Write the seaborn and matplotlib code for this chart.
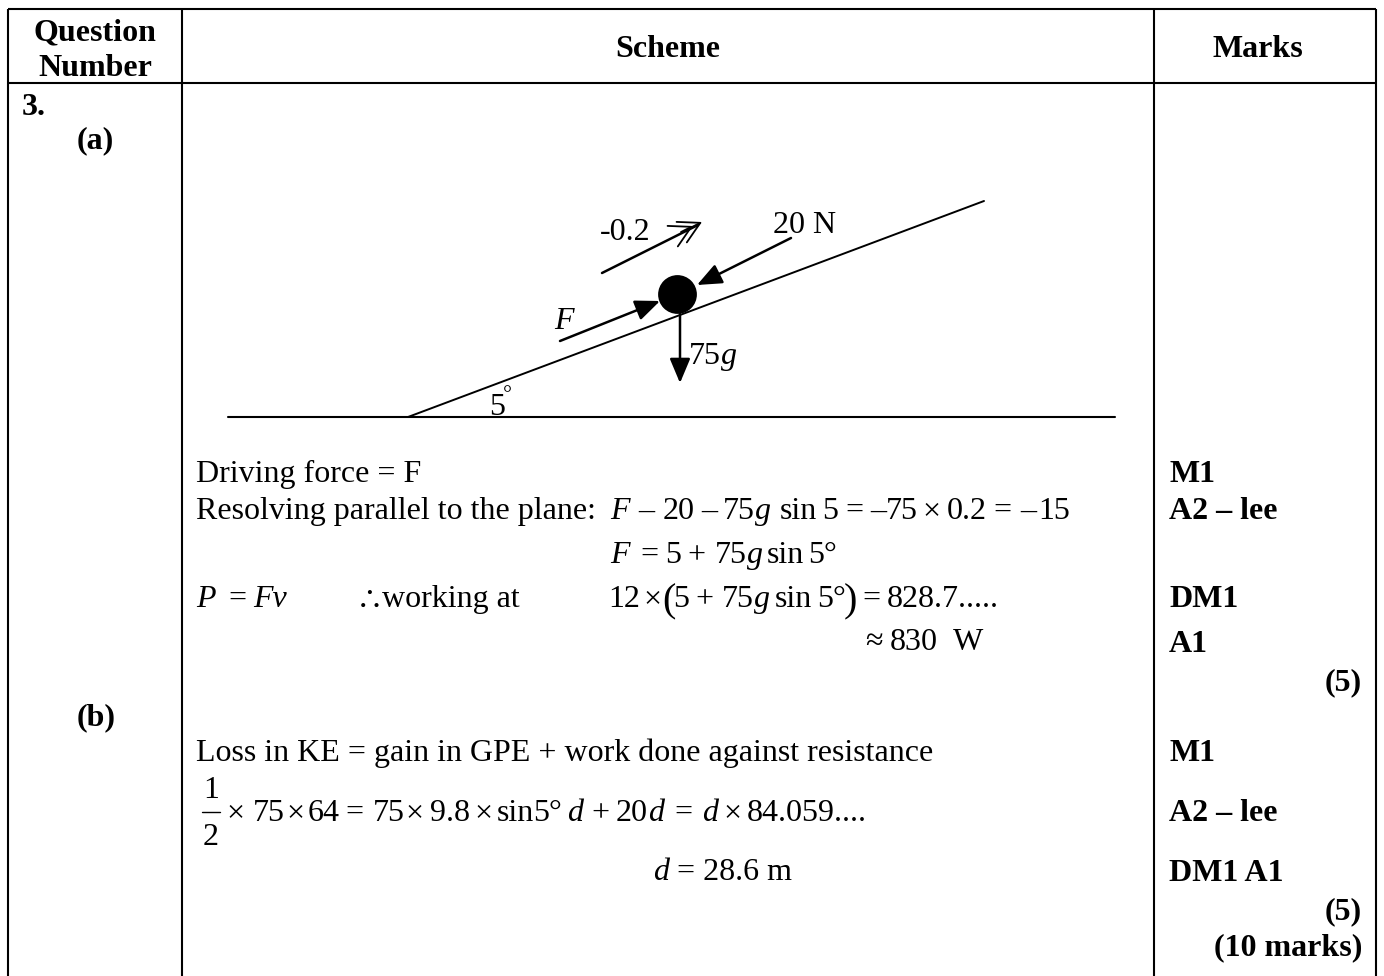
import matplotlib
matplotlib.use('Agg')
import matplotlib.pyplot as plt
import pandas as pd
import seaborn as sns

sns.set_theme(style='white')
plt.rcParams['font.family'] = ['Liberation Serif', 'DejaVu Serif']
plt.rcParams['mathtext.fontset'] = 'custom'
plt.rcParams['mathtext.rm'] = 'Liberation Serif'
plt.rcParams['mathtext.it'] = 'Liberation Serif:italic'

# table grid (pixels of the page)
col_x = [8, 182, 1154, 1376]
row_y = [9, 83]

# diagram geometry
ground_x = [228, 1115]
ground_y = [417, 417]
plane_x = [408, 984]
plane_y = [417, 201]
ball = pd.DataFrame({'x': [677], 'y': [294]})
arrows = [((560, 341), (660, 301)), ((791, 238), (697, 285)), ((680, 314), (680, 383))]

header_text = [('Question', 95, 40), ('Number', 95, 76), ('Scheme', 668, 57), ('Marks', 1258, 57)]
left_text = [('3.', 22, 115), ('(a)', 77, 148), ('(b)', 77, 725)]
mark_text = [('M1', 482), ('A2 – lee', 519), ('DM1', 607), ('A1', 652),
             ('M1', 761), ('A2 – lee', 821), ('DM1 A1', 881)]
total_text = [('(5)', 690), ('(5)', 919), ('(10 marks)', 955)]
diagram_text = [('-0.2', 600, 240, 'normal'), ('20 N', 773, 233, 'normal'), ('F', 554, 329, 'italic'),
                ('75', 689, 364, 'normal'), ('g', 721, 364, 'italic'), ('5', 489, 415, 'normal')]

# plain lines of working
plain_text = [('Driving force = F', 196, 482),
              ('Resolving parallel to the plane:', 196, 519),
              ('working at', 382, 607),
              ('Loss in KE = gain in GPE + work done against resistance', 196, 761)]

# equations: baseline, then (x, text, style)
eq_rows = [
    (519, [(610, 'F', 'italic'), (638, '–', 'normal'), (663, '20', 'normal'), (701, '–', 'normal'),
           (723, '75', 'normal'), (755, 'g', 'italic'), (780, 'sin', 'normal'), (822, '5', 'normal'),
           (845, '=', 'normal'), (870, '–', 'normal'), (886, '75', 'normal'), (922, '×', 'normal'),
           (947, '0.2', 'normal'), (993, '=', 'normal'), (1020, '–', 'normal'), (1038, '15', 'normal')]),
    (563, [(610, 'F', 'italic'), (640, '=', 'normal'), (665, '5', 'normal'), (687, '+', 'normal'),
           (715, '75', 'normal'), (747, 'g', 'italic'), (767, 'sin', 'normal'), (808, '5°', 'normal')]),
    (607, [(196, 'P', 'italic'), (228, '=', 'normal'), (253, 'Fv', 'italic'),
           (608, '12', 'normal'), (643, '×', 'normal'), (673, '5', 'normal'), (695, '+', 'normal'),
           (722, '75', 'normal'), (754, 'g', 'italic'), (775, 'sin', 'normal'), (817, '5°', 'normal'),
           (862, '=', 'normal'), (887, '828.7.....', 'normal')]),
    (650, [(865, '≈', 'normal'), (890, '830', 'normal'), (953, 'W', 'normal')]),
    (821, [(226, '×', 'normal'), (253, '75', 'normal'), (286, '×', 'normal'), (308, '64', 'normal'),
           (345, '=', 'normal'), (373, '75', 'normal'), (405, '×', 'normal'), (430, '9.8', 'normal'),
           (474, '×', 'normal'), (497, 'sin', 'normal'), (533, '5°', 'normal'), (567, 'd', 'italic'),
           (591, '+', 'normal'), (616, '20', 'normal'), (648, 'd', 'italic'), (674, '=', 'normal'),
           (702, 'd', 'italic'), (723, '×', 'normal'), (747, '84.059....', 'normal')]),
    (880, [(653, 'd', 'italic'), (677, '= 28.6 m', 'normal')]),
]

FS = 23

fig = plt.figure(figsize=(13.84, 9.76), dpi=100)
ax = fig.add_axes([0, 0, 1, 1])

ax.vlines(col_x, row_y[0], 976, color='black', lw=1.5)
ax.hlines(row_y, col_x[0], col_x[3], color='black', lw=1.5)

sns.lineplot(x=ground_x, y=ground_y, color='black', lw=1.5, ax=ax)
sns.lineplot(x=plane_x, y=plane_y, color='black', lw=1.4, ax=ax)
sns.scatterplot(data=ball, x='x', y='y', color='black', s=780, linewidth=0, ax=ax)
ax.set_xlim(0, 1384)
ax.set_ylim(976, 0)
ax.axis('off')

for start, end in arrows:
    ax.annotate('', xy=end, xytext=start,
                arrowprops=dict(arrowstyle='-|>,head_length=1.0,head_width=0.42', color='black',
                                lw=1.8, mutation_scale=15, shrinkA=0, shrinkB=0))

# open arrow for the acceleration
ax.plot([602, 698], [273, 225], color='black', lw=1.8)
for tip, back in [((702, 222), (690, 228)), ((693, 226), (681, 232))]:
    ax.annotate('', xy=tip, xytext=back,
                arrowprops=dict(arrowstyle='->,head_length=1.0,head_width=0.55', color='black',
                                lw=1.3, mutation_scale=15, shrinkA=0, shrinkB=0))

for s, x, y in header_text:
    ax.text(x, y, s, ha='center', va='baseline', fontsize=FS, fontweight='bold', color='black')
for s, x, y in left_text:
    ax.text(x, y, s, ha='left', va='baseline', fontsize=FS, fontweight='bold', color='black')
for s, y in mark_text:
    ax.text(1169, y, s, ha='left', va='baseline', fontsize=FS, fontweight='bold', color='black')
for s, y in total_text:
    ax.text(1362, y, s, ha='right', va='baseline', fontsize=FS, fontweight='bold', color='black')
for s, x, y, st in diagram_text:
    ax.text(x, y, s, ha='left', va='baseline', fontsize=FS, fontstyle=st, color='black')
ax.text(503, 400, '°', ha='left', va='baseline', fontsize=16, color='black')
for s, x, y in plain_text:
    ax.text(x, y, s, ha='left', va='baseline', fontsize=FS, color='black')
for y, pieces in eq_rows:
    for x, s, st in pieces:
        ax.text(x, y, s, ha='left', va='baseline', fontsize=FS, fontstyle=st, color='black')

# therefore sign and the tall brackets
ax.text(355, 607, r'$\therefore$', ha='left', va='baseline', fontsize=FS, color='black')
ax.text(662, 611, '(', ha='left', va='baseline', fontsize=29, fontweight='light', color='black')
ax.text(844, 611, ')', ha='left', va='baseline', fontsize=29, fontweight='light', color='black')

# the half in part (b)
ax.text(211, 798, '1', ha='center', va='baseline', fontsize=FS, color='black')
ax.text(211, 845, '2', ha='center', va='baseline', fontsize=FS, color='black')
ax.plot([202, 220], [812, 812], color='black', lw=1.0)

fig.savefig('out.png', dpi=100)
